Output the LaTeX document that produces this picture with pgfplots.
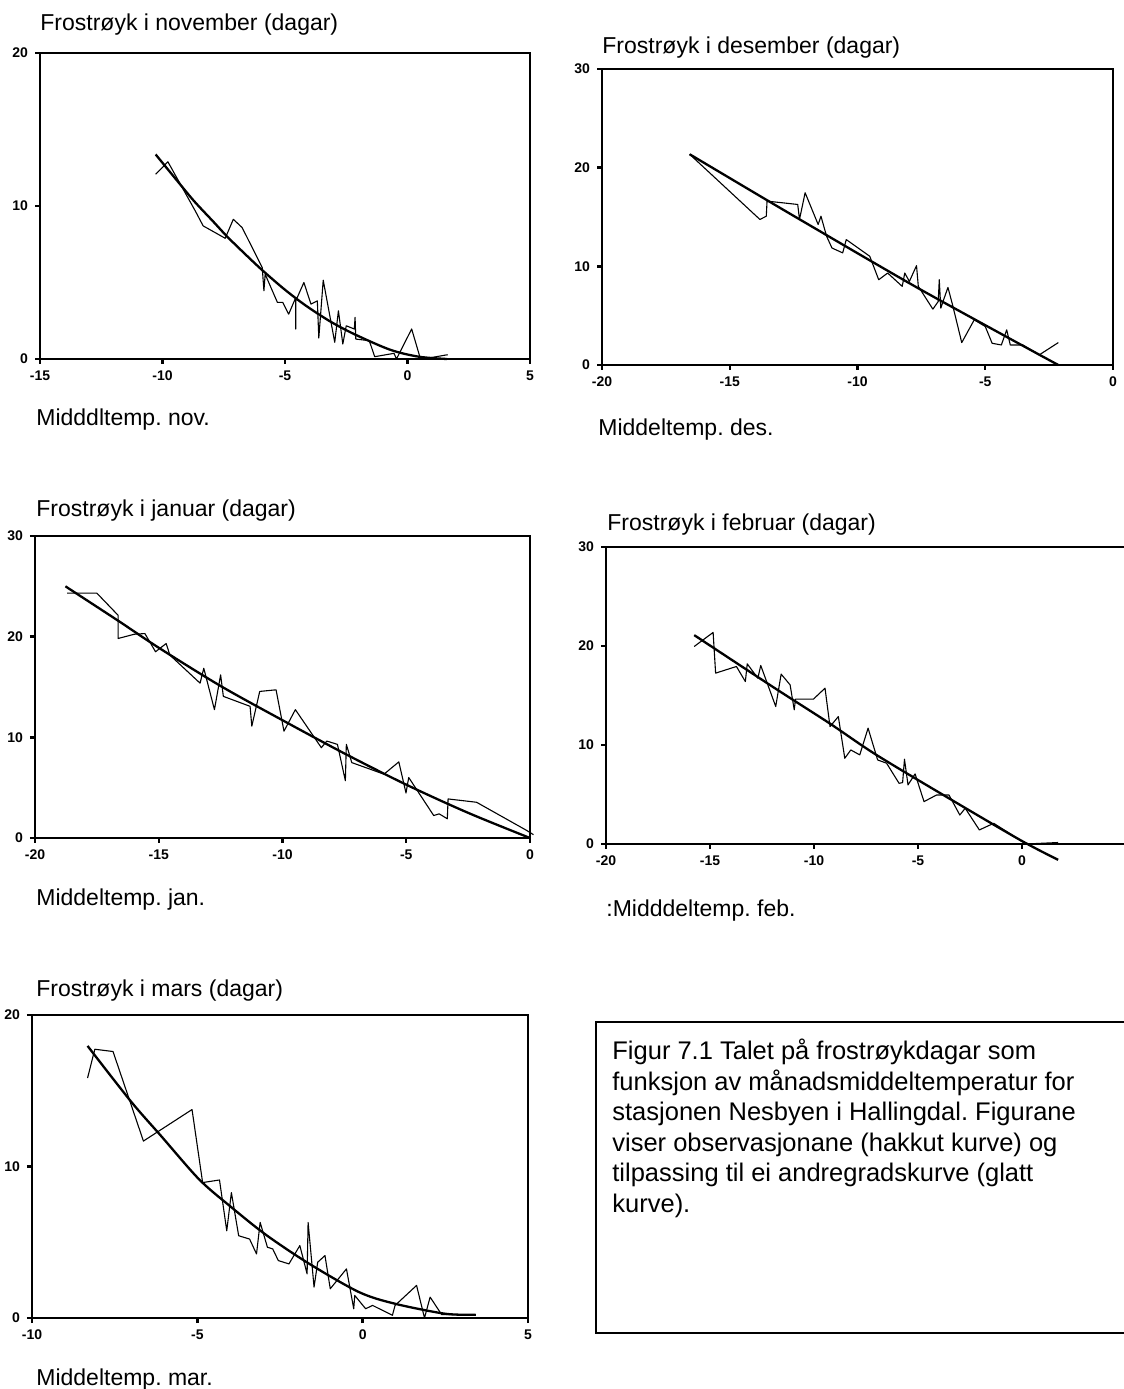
\documentclass[border=0pt]{standalone}
\usepackage{fontspec}
\setmainfont{Liberation Sans}
\usepackage{pgfplots}
\pgfplotsset{compat=1.18}

% 1 px of the scan = 0.5pt
\pgfplotsset{
  panel/.style={
    scale only axis, clip=false,
    axis line style={line width=1.4pt},
    tick pos=left, tick align=outside,
    major tick length=2.5pt,
    tick style={black, line width=1.2pt},
    tick label style={font=\fontsize{7}{8}\selectfont\bfseries},
    /pgf/number format/assume math mode=true,
    title style={at={(axis description cs:0,1)}, anchor=base west, inner sep=0pt,
      font=\fontsize{11.5}{13}\selectfont},
    xlabel style={at={(axis description cs:0,0)}, anchor=base west, inner sep=0pt,
      font=\fontsize{11.5}{13}\selectfont},
  },
  obs/.style={black, line width=0.55pt, line join=round},
  fit/.style={black, line width=1.15pt, smooth},
}

\begin{document}
\frenchspacing
\begin{tikzpicture}
\useasboundingbox (0,0) rectangle (562pt,694.5pt);

% --- november
\begin{axis}[panel, at={(20pt,515pt)}, width=245pt, height=153pt,
  xmin=-15, xmax=5, ymin=0, ymax=20,
  xtick={-15,-10,-5,0,5}, ytick={0,10,20},
  title={Frostrøyk i november (dagar)}, title style={yshift=5pt},
  xlabel={Midddltemp. nov.}, xlabel style={yshift=-33.5pt, xshift=-2pt}]
\addplot[obs] coordinates {
 (-10.28,12.07)(-9.78,12.89)(-8.66,9.67)(-8.34,8.70)(-7.44,7.89)(-7.11,9.13)
 (-6.75,8.59)(-5.93,5.98)(-5.86,4.46)(-5.81,5.54)(-5.31,3.70)(-5.09,3.70)
 (-4.85,2.93)(-4.56,4.02)(-4.56,1.96)(-4.56,3.80)(-4.23,5.00)(-3.94,3.59)
 (-3.68,3.80)(-3.62,1.37)(-3.44,5.15)(-2.97,1.09)(-2.82,3.15)(-2.64,0.98)
 (-2.50,2.17)(-2.17,1.96)(-2.14,2.72)(-2.11,1.30)(-1.56,1.20)(-1.34,0.15)
 (-0.55,0.37)(-0.45,0.00)(0.17,1.96)(0.53,0.00)(1.03,0.11)(1.64,0.28)};
\addplot[fit] coordinates {
 (-10.28,13.37)(-9.35,11.55)(-8.70,10.3)(-7.91,8.95)(-7.33,7.95)(-6.46,6.6)
 (-5.89,5.75)(-5.02,4.55)(-4.16,3.5)(-3.15,2.45)(-2.14,1.6)(-0.70,0.6)
 (0.46,0.15)(1.61,0.0)};
\end{axis}

% --- desember
\begin{axis}[panel, at={(301pt,512pt)}, width=255.5pt, height=148pt,
  xmin=-20, xmax=0, ymin=0, ymax=30,
  xtick={-20,-15,-10,-5,0}, ytick={0,10,20,30},
  title={Frostrøyk i desember (dagar)}, title style={yshift=1.5pt},
  xlabel={Middeltemp. des.}, xlabel style={yshift=-35.5pt, xshift=-2pt}]
\addplot[obs] coordinates {
 (-16.57,21.36)(-13.82,14.75)(-13.57,15.08)(-13.54,16.61)(-12.34,16.27)
 (-12.27,14.75)(-12.05,17.46)(-11.54,14.24)(-11.43,15.08)(-11.21,13.05)
 (-11.0,11.86)(-10.58,11.36)(-10.44,12.71)(-9.52,11.02)(-9.17,8.64)
 (-8.82,9.32)(-8.25,7.97)(-8.15,9.32)(-7.97,8.47)(-7.69,10.07)(-7.62,7.97)
 (-7.05,5.66)(-6.84,6.44)(-6.80,8.64)(-6.74,5.76)(-6.63,6.61)(-6.46,7.86)
 (-6.28,6.10)(-5.92,2.27)(-5.43,4.58)(-5.0,3.9)(-4.73,2.20)(-4.37,2.03)
 (-4.16,3.56)(-4.02,2.03)(-3.53,2.03)(-2.89,1.02)(-2.14,2.27)};
\addplot[fit] coordinates {
 (-16.57,21.36)(-13.54,16.7)(-11.5,13.6)(-9.45,10.5)(-7.5,7.6)(-4.94,3.95)
 (-2.89,1.05)(-2.14,0)};
\end{axis}

% --- januar
\begin{axis}[panel, at={(17.5pt,275.5pt)}, width=247.5pt, height=151pt,
  xmin=-20, xmax=0, ymin=0, ymax=30,
  xtick={-20,-15,-10,-5,0}, ytick={0,10,20,30},
  title={Frostrøyk i januar (dagar)}, title style={yshift=4pt, xshift=0.5pt},
  xlabel={Middeltemp. jan.}, xlabel style={yshift=-34pt, xshift=0.5pt}]
\addplot[obs] coordinates {
 (-18.70,24.32)(-17.5,24.32)(-16.64,22.12)(-16.64,19.82)(-15.99,20.24)
 (-15.56,20.31)(-15.13,18.5)(-14.70,19.32)(-14.55,18.17)(-13.33,15.38)
 (-13.18,16.86)(-12.75,12.75)(-12.50,16.2)(-12.39,14.07)(-11.31,13.08)
 (-11.24,11.11)(-10.92,14.56)(-10.26,14.72)(-9.94,10.61)(-9.48,12.75)
 (-8.43,8.97)(-8.21,9.63)(-7.78,9.3)(-7.46,5.69)(-7.42,9.3)(-7.20,7.49)
 (-5.90,6.34)(-5.30,7.56)(-5.01,4.47)(-4.90,6.01)(-3.89,2.23)(-3.67,2.4)
 (-3.34,1.91)(-3.31,3.88)(-2.16,3.55)(-0.14,0.76)(0.14,0.33)};
\addplot[fit] coordinates {
 (-18.77,25.0)(-16.65,21.6)(-15,18.9)(-12.5,15.1)(-10,11.7)(-7.5,8.4)
 (-5,5.3)(-2.5,2.5)(0,0)};
\end{axis}

% --- februar
\begin{axis}[panel, at={(303pt,272.5pt)}, width=260pt, height=148.5pt,
  xmin=-20, xmax=5, ymin=0, ymax=30,
  xtick={-20,-15,-10,-5,0}, ytick={0,10,20,30},
  title={Frostrøyk i februar (dagar)}, title style={yshift=2.5pt, xshift=0.5pt},
  xlabel={:Midddeltemp. feb.}, xlabel style={yshift=-36pt, xshift=0pt}]
\addplot[obs] coordinates {
 (-15.76,19.95)(-14.85,21.37)(-14.73,17.26)(-13.73,17.93)(-13.30,16.41)
 (-13.21,18.2)(-12.70,16.75)(-12.56,18.03)(-11.84,13.89)(-11.58,17.16)
 (-11.15,16.08)(-10.95,13.55)(-10.89,14.63)(-10.03,14.63)(-9.47,15.74)
 (-9.23,11.86)(-8.83,12.87)(-8.52,8.66)(-8.23,9.5)(-7.80,9.0)(-7.40,11.70)
 (-6.94,8.49)(-6.51,8.16)(-5.91,6.13)(-5.74,6.2)(-5.65,8.56)(-5.48,5.97)
 (-5.14,7.08)(-4.71,4.28)(-4.11,4.95)(-3.51,4.95)(-2.99,2.93)(-2.73,3.61)
 (-2.05,1.42)(-1.36,2.09)(0.2,0)(1.74,0.15)};
\addplot[fit] coordinates {
 (-15.76,21.1)(-12,15.9)(-9.26,12.2)(-7,9.0)(-3.26,4.3)(0,0.3)(1.74,-1.6)};
\end{axis}

% --- mars
\begin{axis}[panel, at={(16pt,35.5pt)}, width=248pt, height=151.5pt,
  xmin=-10, xmax=5, ymin=0, ymax=20,
  xtick={-10,-5,0,5}, ytick={0,10,20},
  title={Frostrøyk i mars (dagar)}, title style={yshift=3.5pt, xshift=2pt},
  xlabel={Middeltemp. mar.}, xlabel style={yshift=-33.5pt, xshift=2pt}]
\addplot[obs] coordinates {
 (-8.32,15.84)(-8.10,17.74)(-7.55,17.59)(-6.63,11.68)(-5.16,13.76)(-4.84,8.94)
 (-4.33,9.11)(-4.11,5.76)(-3.97,8.28)(-3.75,5.43)(-3.42,5.21)(-3.21,4.23)
 (-3.10,6.31)(-2.88,4.67)(-2.72,4.56)(-2.55,3.79)(-2.23,3.57)(-1.90,4.78)
 (-1.68,2.91)(-1.65,6.31)(-1.47,2.04)(-1.36,3.68)(-1.14,4.12)(-0.98,1.93)
 (-0.49,3.24)(-0.27,0.61)(-0.24,1.49)(0.09,0.61)(0.30,0.83)(0.90,0.18)
 (0.98,0.83)(1.63,2.15)(1.87,0)(2.04,1.38)(2.39,0.22)(3.42,0.22)};
\addplot[fit] coordinates {
 (-8.32,17.96)(-7.01,14.30)(-6.09,12.0)(-4.95,9.16)(-4.02,7.40)(-2.93,5.5)
 (-1.63,3.6)(-0.11,1.71)(0.98,0.94)(2.5,0.28)(3.42,0.22)};
\end{axis}

% --- caption box
\draw[line width=1.4pt] (570pt,183.5pt) -- (298pt,183.5pt) -- (298pt,28pt) -- (570pt,28pt);
\node[anchor=north west, inner sep=0pt, align=left,
      font=\fontsize{12.75}{15.25}\selectfont] at (306pt,175pt)
  {Figur 7.1 Talet på frostrøykdagar som\\
   funksjon av månadsmiddeltemperatur for\\
   stasjonen Nesbyen i Hallingdal. Figurane\\
   viser observasjonane (hakkut kurve) og\\
   tilpassing til ei andregradskurve (glatt\\
   kurve).};
\end{tikzpicture}
\end{document}
